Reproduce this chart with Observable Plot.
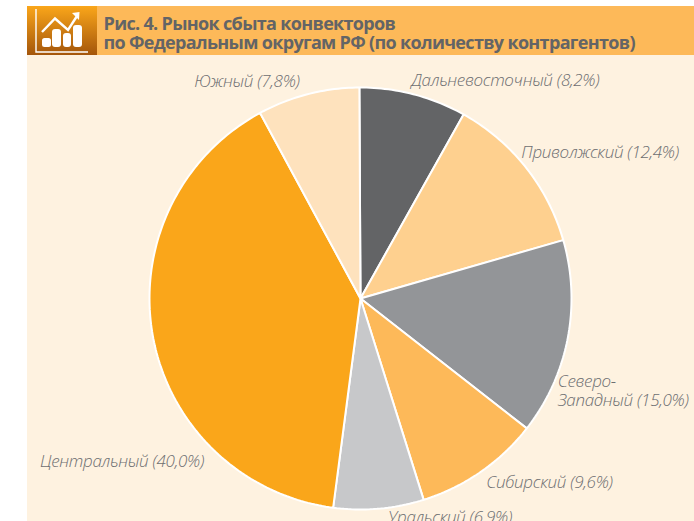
<!DOCTYPE html>
<html><head><meta charset="utf-8">
<script src="https://cdn.jsdelivr.net/npm/d3@7"></script>
<script src="https://cdn.jsdelivr.net/npm/@observablehq/plot@0.6"></script>
<style>
html,body{margin:0;padding:0;background:#fff;overflow:hidden}
#page{position:relative;width:694px;height:521px;overflow:hidden}
#panel{position:absolute;left:27px;top:55px;width:667px;height:466px;background:#fef2e0}
#bar{position:absolute;left:27px;top:6px;width:667px;height:49px;background:#fdb959}
#icon{position:absolute;left:27px;top:6px;width:70px;height:49px}
#title{position:absolute;left:103.5px;top:14px;margin:0;font:700 18px/18.5px "Open Sans",sans-serif;color:#636466;letter-spacing:-.67px;white-space:nowrap}
#chart{position:absolute;left:0;top:0}
#chart svg{background:transparent;display:block}
#chart text{letter-spacing:-.3px}
</style></head><body>
<div id="page">
<div id="panel"></div><div id="bar"></div>
<svg id="icon" viewBox="0 0 70 49"><defs><linearGradient id="g" x1="0" y1="0" x2="0" y2="1"><stop offset="0" stop-color="#faa61a"/><stop offset="1" stop-color="#a4560b"/></linearGradient></defs>
<rect width="70" height="49" fill="url(#g)"/>
<path d="M9 3V46H61" fill="none" stroke="#fff" stroke-width="1.4"/>
<path d="M15 26L28 12.5L41 24L51 8.5" fill="none" stroke="#fff" stroke-width="2.4"/><path d="M45 7L52.5 6L52 14Z" fill="#fff"/>
<rect x="15" y="32" width="9" height="9" rx="2.5" fill="#fff"/><rect x="25" y="23" width="9" height="18" rx="3" fill="#fff"/><rect x="36" y="27" width="8" height="14" rx="3" fill="#fff"/><rect x="46" y="19" width="9" height="22" rx="3" fill="#fff"/></svg>
<h1 id="title">Рис. 4. Рынок сбыта конвекторов<br>по Федеральным округам РФ (по количеству контрагентов)</h1>
<div id="chart"></div>
</div>
<script>
const regions = ["Дальневосточный", "Приволжский", "Северо-Западный", "Сибирский", "Уральский", "Центральный", "Южный"];
const shares = [8.2, 12.4, 15.0, 9.6, 6.9, 40.0, 7.8];
const shareLabels = ["Дальневосточный (8,2%)", "Приволжский (12,4%)", "Северо-\nЗападный (15,0%)", "Сибирский (9,6%)", "Уральский (6,9%)", "Центральный (40,0%)", "Южный (7,8%)"];
const colors = ["#636466", "#fed08f", "#939598", "#fdb959", "#c7c8ca", "#faa61a", "#fee2bd"];
// label layout: anchor and pixel offset from the outer midpoint of the slice
const labelLayout = [
  ["start", -2, -14], ["start", -4.5, -15.5], ["start", -10, 52], ["start", 5.5, 10],
  ["start", 9, 8], ["end", 51, 124], ["end", -8.5, -13]
];

const total = d3.sum(shares);
const W = 694, H = 521, cx = 360, cy = 298, R = 211, start = -0.3 * Math.PI / 180;
let cum = 0;
const slices = shares.map((v, i) => {
  const a0 = start + cum / total * 2 * Math.PI; cum += v;
  const a1 = start + cum / total * 2 * Math.PI;
  return {region: regions[i], label: shareLabels[i], a0, a1, mid: (a0 + a1) / 2, layout: labelLayout[i]};
});
const polar = (a, r) => [cx + r * Math.sin(a), cy - r * Math.cos(a)];
const poly = slices.flatMap(s => {
  const n = Math.ceil((s.a1 - s.a0) * 180 / Math.PI);
  const pts = [polar(0, 0)];
  for (let k = 0; k <= n; k++) pts.push(polar(s.a0 + (s.a1 - s.a0) * k / n, R));
  pts.push(polar(0, 0));
  return pts.map(p => ({region: s.region, x: p[0], y: p[1]}));
});

const textStyle = {fontFamily: "Open Sans", fontStyle: "italic", fontWeight: 300, fontSize: 17, fill: "#6d6e71", lineHeight: 1.12};
const plot = Plot.plot({
  width: W, height: H, margin: 0,
  x: {domain: [0, W], range: [0, W], axis: null},
  y: {domain: [0, H], range: [0, H], axis: null},
  color: {domain: regions, range: colors},
  marks: [
    Plot.line(poly, {x: "x", y: "y", z: "region", fill: "region", stroke: "#fff", strokeWidth: 2, strokeLinejoin: "miter", curve: "linear"}),
    ...slices.map(s => Plot.text([s], {
      x: d => polar(d.mid, R)[0], y: d => polar(d.mid, R)[1], text: "label",
      textAnchor: s.layout[0], dx: s.layout[1], dy: s.layout[2], ...textStyle
    }))
  ]
});
document.getElementById("chart").appendChild(plot);
</script>
</body></html>
